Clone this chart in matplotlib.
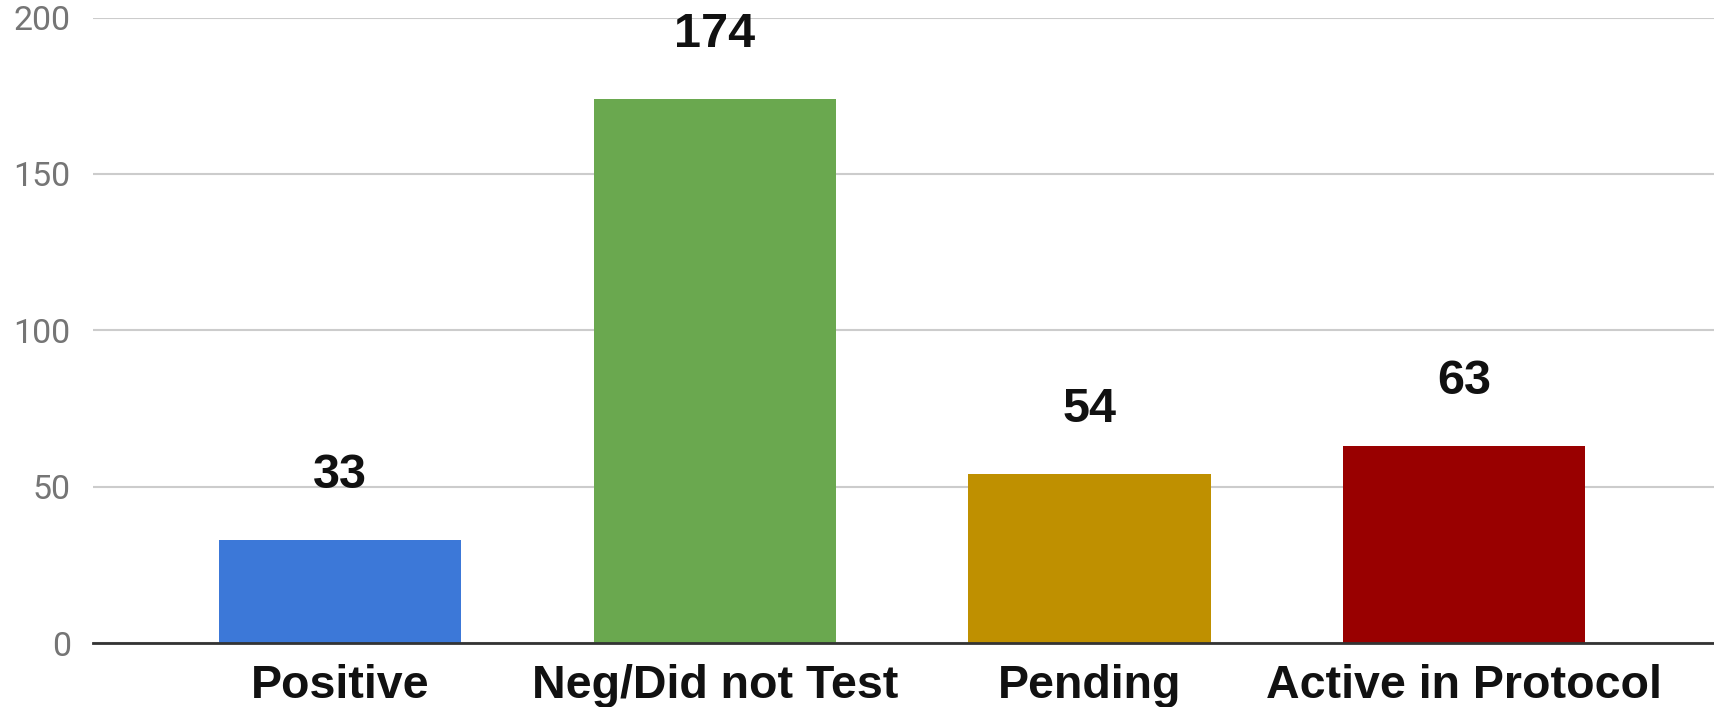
import matplotlib
matplotlib.use("Agg")
import matplotlib.pyplot as plt

categories = ["Positive", "Neg/Did not Test", "Pending", "Active in Protocol"]
values = [33, 174, 54, 63]
colors = ["#3c78d8", "#6aa84f", "#bf9000", "#990000"]
yticks = [0, 50, 100, 150, 200]

fig = plt.figure(figsize=(17.15, 7.07), dpi=100)
ax = fig.add_axes([93/1715, (707-643)/707, 1 - 93/1715, (643-17.5)/707])

x = list(range(len(categories)))
ax.bar(x, values, width=0.647, color=colors, zorder=3)

for xi, v in zip(x, values):
    ax.text(xi, v + 13.5, str(v), ha="center", va="bottom", fontsize=35,
            fontweight="bold", family="Liberation Sans", color="#111111",
            clip_on=False, zorder=4)

ax.set_xlim(-0.66, 3.67)
ax.set_ylim(0, 200)
ax.set_yticks(yticks)
ax.set_yticklabels([str(t) for t in yticks], fontsize=24.5, family="Roboto", color="#757575")
ax.set_xticks(x)
ax.set_xticklabels(categories, fontsize=33.5, fontweight="bold", family="Liberation Sans", color="#111111")
ax.tick_params(axis="both", length=0)
ax.tick_params(axis="y", pad=16)
ax.tick_params(axis="x", pad=15)

ax.grid(axis="y", color="#cccccc", linewidth=1.5, zorder=0)
for s in ["top", "right", "left"]:
    ax.spines[s].set_visible(False)
ax.spines["bottom"].set_color("#333333")
ax.spines["bottom"].set_linewidth(2)
ax.spines["bottom"].set_zorder(5)

fig.savefig("out.png", dpi=100)
